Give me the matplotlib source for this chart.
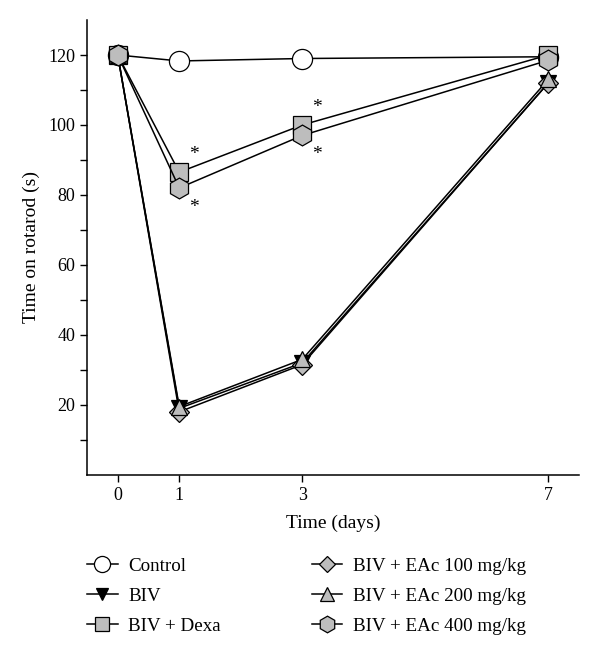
import matplotlib
matplotlib.use("Agg")
import matplotlib.pyplot as plt

plt.rcParams['font.family'] = ['Liberation Serif', 'DejaVu Serif']

days = [0, 1, 3, 7]

control = [120, 118.3, 119.0, 119.5]
biv = [120, 19.0, 32.0, 112.0]
dexa = [120, 86.5, 100.0, 120.0]
eac100 = [120, 18.0, 31.5, 112.0]
eac200 = [120, 19.5, 33.0, 113.0]
eac400 = [120, 82.0, 97.0, 118.5]

labels = ["Control", "BIV", "BIV + Dexa",
          "BIV + EAc 100 mg/kg", "BIV + EAc 200 mg/kg", "BIV + EAc 400 mg/kg"]

# significance stars (Dexa above, EAc 400 below)
stars_day = [1, 1, 3, 3]
stars_val = [dexa[1], eac400[1], dexa[2], eac400[2]]
stars_side = [1, -1, 1, -1]

grey = "#bdbdbd"

fig = plt.figure(figsize=(6.0, 6.46), dpi=100)
ax = fig.add_axes([0.145, 0.265, 0.82, 0.704])

styles = [
    dict(marker="o", mfc="white", ms=14.5),
    dict(marker="v", mfc="black", ms=11),
    dict(marker="s", mfc=grey, ms=12.5),
    dict(marker="D", mfc=grey, ms=10),
    dict(marker="^", mfc=grey, ms=12),
    dict(marker="h", mfc=grey, ms=15),
]
series = [control, biv, dexa, eac100, eac200, eac400]
# draw so that grey symbols sit on top like in the original
order = [1, 3, 4, 0, 2, 5]
handles = [None] * 6
for i in order:
    st = styles[i]
    h, = ax.plot(days, series[i], color="black", lw=1.1, marker=st["marker"],
                 ms=st["ms"], mfc=st["mfc"], mec="black", mew=0.9,
                 label=labels[i], zorder=3 + i)
    handles[i] = h

for d, v, s in zip(stars_day, stars_val, stars_side):
    dy = 5.0 if s > 0 else -5.5
    ax.text(d + 0.24, v + dy, "*", fontsize=14, ha="center", va="center")

ax.set_xlim(-0.5, 7.5)
ax.set_ylim(0, 130)
ax.set_xticks(days)
ax.set_yticks([20, 40, 60, 80, 100, 120])
ax.set_yticks([10, 30, 50, 70, 90, 110], minor=True)
ax.tick_params(axis="both", direction="out", length=5, width=1, labelsize=13)
ax.tick_params(axis="y", which="minor", direction="out", length=5, width=1)
for s in ["top", "right"]:
    ax.spines[s].set_visible(False)
for s in ["left", "bottom"]:
    ax.spines[s].set_linewidth(1.1)

ax.set_xlabel("Time (days)", fontsize=14, labelpad=8)
ax.set_ylabel("Time on rotarod (s)", fontsize=14, labelpad=6)

fig.legend(handles=handles, loc="lower center", bbox_to_anchor=(0.511, -0.009),
           ncol=2, frameon=False, fontsize=13.7, handlelength=1.6,
           columnspacing=4.8, labelspacing=0.66, markerscale=0.8,
           handletextpad=0.55)

fig.savefig("out.png", dpi=100)
